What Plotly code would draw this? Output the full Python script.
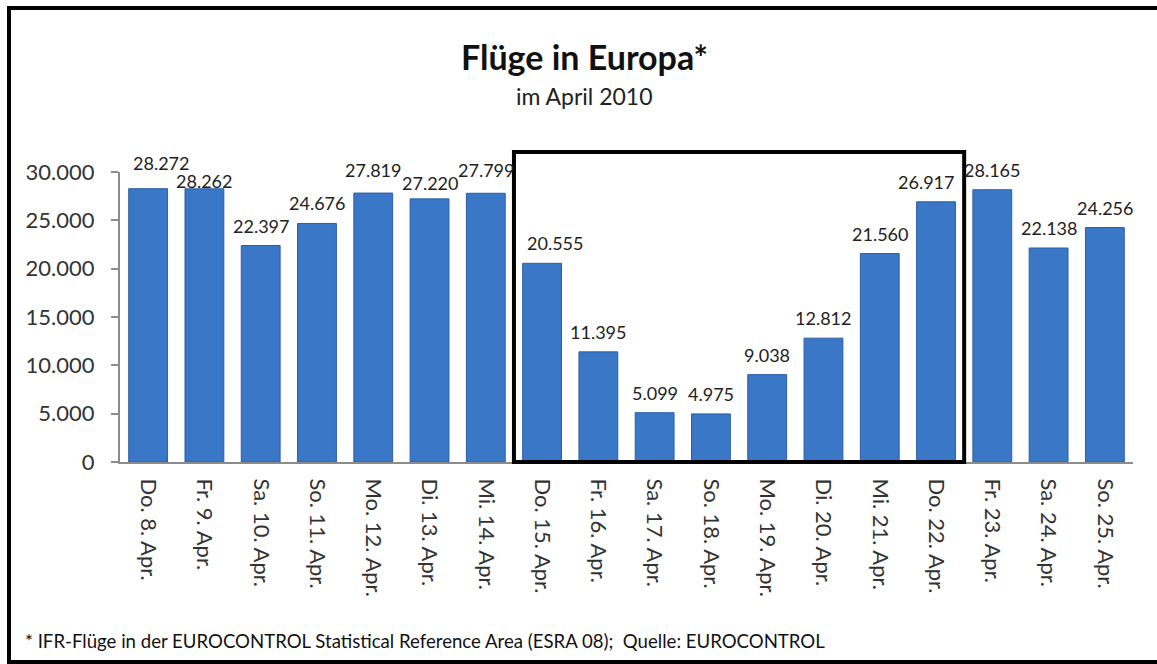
import plotly.graph_objects as go

categories = ["Do. 8. Apr.", "Fr. 9. Apr.", "Sa. 10. Apr.", "So. 11. Apr.", "Mo. 12. Apr.",
              "Di. 13. Apr.", "Mi. 14. Apr.", "Do. 15. Apr.", "Fr. 16. Apr.", "Sa. 17. Apr.",
              "So. 18. Apr.", "Mo. 19. Apr.", "Di. 20. Apr.", "Mi. 21. Apr.", "Do. 22. Apr.",
              "Fr. 23. Apr.", "Sa. 24. Apr.", "So. 25. Apr."]
flights = [28272, 28262, 22397, 24676, 27819, 27220, 27799, 20555, 11395, 5099,
           4975, 9038, 12812, 21560, 26917, 28165, 22138, 24256]
highlight_first = "Do. 15. Apr."
highlight_last = "Do. 22. Apr."

title = "Flüge in Europa*"
subtitle = "im April 2010"
footer = "* IFR-Flüge in der EUROCONTROL Statistical Reference Area (ESRA 08);  Quelle: EUROCONTROL"

W, H = 1157, 664
L, R, T, B = 120, 1133, 172, 462  # plot area in pixels
FONT = "Lato, 'Open Sans', sans-serif"

# label placement tweaks (pixel shifts) as in the original to avoid overlaps
LABEL_SHIFT = {0: (13, 6), 1: (0, -12), 4: (0, 3), 5: (0, -4), 6: (0, 3),
               7: (13, 0), 14: (-10, 0)}


def px_x(px):
    return (px - L) / (R - L)


def px_y(py):
    return (B - py) / (B - T)


def fmt(v):
    return f"{v:,}".replace(",", ".")


fig = go.Figure()
fig.add_trace(go.Bar(
    x=categories, y=flights,
    marker=dict(color="#3a77c6", line=dict(color="#2b5ea6", width=1)),
    hoverinfo="x+y",
))

n = len(categories)
i0 = categories.index(highlight_first)
i1 = categories.index(highlight_last)

frame = dict(color="black", width=4)
shapes = [
    # highlight box
    dict(type="rect", xref="paper", yref="paper",
         x0=i0 / n, x1=(i1 + 1) / n, y0=0, y1=px_y(152),
         line=dict(color="black", width=4), fillcolor="rgba(0,0,0,0)", layer="above"),
    # outer frame: left, top, bottom
    dict(type="line", xref="paper", yref="paper",
         x0=px_x(9), x1=px_x(9), y0=px_y(662), y1=px_y(8), line=frame),
    dict(type="line", xref="paper", yref="paper",
         x0=px_x(7), x1=px_x(W + 5), y0=px_y(8), y1=px_y(8), line=frame),
    dict(type="line", xref="paper", yref="paper",
         x0=px_x(7), x1=px_x(W + 5), y0=px_y(662), y1=px_y(662), line=frame),
]

annotations = [
    dict(text=f"<b>{title}</b>", xref="paper", yref="paper", x=px_x(584), y=px_y(56),
         xanchor="center", yanchor="middle", showarrow=False,
         font=dict(family=FONT, size=34, color="#111111")),
    dict(text=subtitle, xref="paper", yref="paper", x=px_x(584), y=px_y(96),
         xanchor="center", yanchor="middle", showarrow=False,
         font=dict(family=FONT, size=23, color="#222222")),
    dict(text=footer, xref="paper", yref="paper", x=px_x(23), y=px_y(641),
         xanchor="left", yanchor="middle", showarrow=False,
         font=dict(family=FONT, size=18.6, color="#111111")),
]

for i, (c, v) in enumerate(zip(categories, flights)):
    dx, dy = LABEL_SHIFT.get(i, (0, 0))
    annotations.append(dict(
        text=fmt(v), x=c, y=v, xref="x", yref="y", showarrow=False,
        xanchor="center", yanchor="middle", xshift=dx, yshift=20 + dy,
        font=dict(family=FONT, size=18, color="#222222"),
    ))

fig.update_layout(
    width=W, height=H,
    margin=dict(l=L, r=W - R, t=T, b=H - B, pad=0),
    paper_bgcolor="white", plot_bgcolor="white",
    separators=",.",
    bargap=0.31,
    showlegend=False,
    shapes=shapes,
    annotations=annotations,
    font=dict(family=FONT),
    xaxis=dict(
        type="category", range=[-0.5, n - 0.5],
        showline=True, linecolor="#8c8c8c", linewidth=2,
        showgrid=False, ticks="", tickangle=90,
        ticklabelstandoff=10,
        tickfont=dict(family=FONT, size=22, color="#333333"),
        zeroline=False,
    ),
    yaxis=dict(
        range=[0, 30000], dtick=5000, tickformat=",d",
        showline=True, linecolor="#8c8c8c", linewidth=2,
        showgrid=False, ticks="outside", ticklen=7, tickcolor="#8c8c8c", tickwidth=2,
        ticklabelstandoff=12,
        tickfont=dict(family=FONT, size=22, color="#333333"),
        zeroline=False,
    ),
)

fig.write_html("out.html")
